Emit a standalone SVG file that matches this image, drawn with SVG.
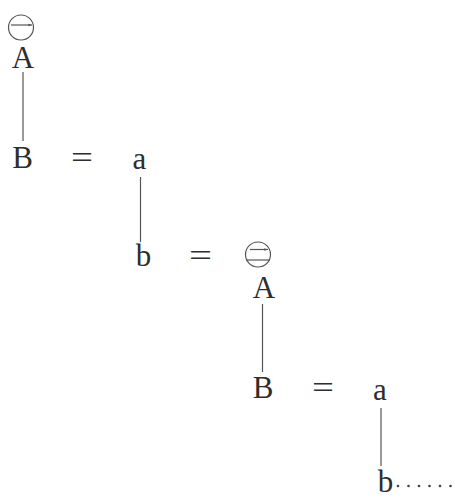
<svg xmlns="http://www.w3.org/2000/svg" width="455" height="499" viewBox="0 0 455 499">
<defs>
<style>
.t{font-family:"Liberation Serif","Times New Roman",serif;font-size:31px;fill:#2e2e2e;text-anchor:middle}
.ln{stroke:#555;stroke-width:1.2;fill:none}
.c{stroke:#555;stroke-width:1.2;fill:none}
.dot{fill:#444}
</style>
<marker id="ah" viewBox="0 0 6 6" refX="5.5" refY="3" markerWidth="4" markerHeight="4" orient="auto" markerUnits="userSpaceOnUse">
<path d="M0,1 L6,3 L0,5 Z" fill="#555"/>
</marker>
</defs>
<rect width="455" height="499" fill="#fff"/>
<g id="connectors">
<line class="ln" x1="23" y1="72" x2="23" y2="141"/>
<line class="ln" x1="140.5" y1="177" x2="140.5" y2="242"/>
<line class="ln" x1="262.5" y1="304" x2="262.5" y2="372"/>
<line class="ln" x1="381" y1="408" x2="381" y2="466"/>
</g>
<g id="circle1">
<circle class="c" cx="21" cy="27.5" r="12.5"/>
<line class="c" x1="11" y1="25" x2="32" y2="25" marker-end="url(#ah)"/>
</g>
<g id="A1"><text class="t" x="23" y="68">A</text></g>
<g id="B1"><text class="t" x="22.5" y="168">B</text></g>
<g id="eq1"><text class="t" x="71" y="168" style="text-anchor:start" textLength="22" lengthAdjust="spacingAndGlyphs">=</text></g>
<g id="a1"><text class="t" x="139.5" y="169">a</text></g>
<g id="b1"><text class="t" x="143.5" y="266">b</text></g>
<g id="eq2"><text class="t" x="189" y="266" style="text-anchor:start" textLength="23" lengthAdjust="spacingAndGlyphs">=</text></g>
<g id="circle2">
<circle class="c" cx="258" cy="254.5" r="12.5"/>
<line class="c" x1="250" y1="249.5" x2="268" y2="249.5" marker-end="url(#ah)"/>
<line class="c" x1="246" y1="260" x2="270" y2="260"/>
</g>
<g id="A2"><text class="t" x="264" y="298">A</text></g>
<g id="B2"><text class="t" x="263" y="398">B</text></g>
<g id="eq3"><text class="t" x="312" y="398" style="text-anchor:start" textLength="22" lengthAdjust="spacingAndGlyphs">=</text></g>
<g id="a2"><text class="t" x="380" y="400">a</text></g>
<g id="b2"><text class="t" x="385.5" y="492">b</text></g>
<g id="dots">
<circle class="dot" cx="398" cy="486" r="1.3"/>
<circle class="dot" cx="408.5" cy="486" r="1.3"/>
<circle class="dot" cx="419" cy="486" r="1.3"/>
<circle class="dot" cx="429.5" cy="486" r="1.3"/>
<circle class="dot" cx="440" cy="486" r="1.3"/>
<circle class="dot" cx="450.5" cy="486" r="1.3"/>
</g>
</svg>
